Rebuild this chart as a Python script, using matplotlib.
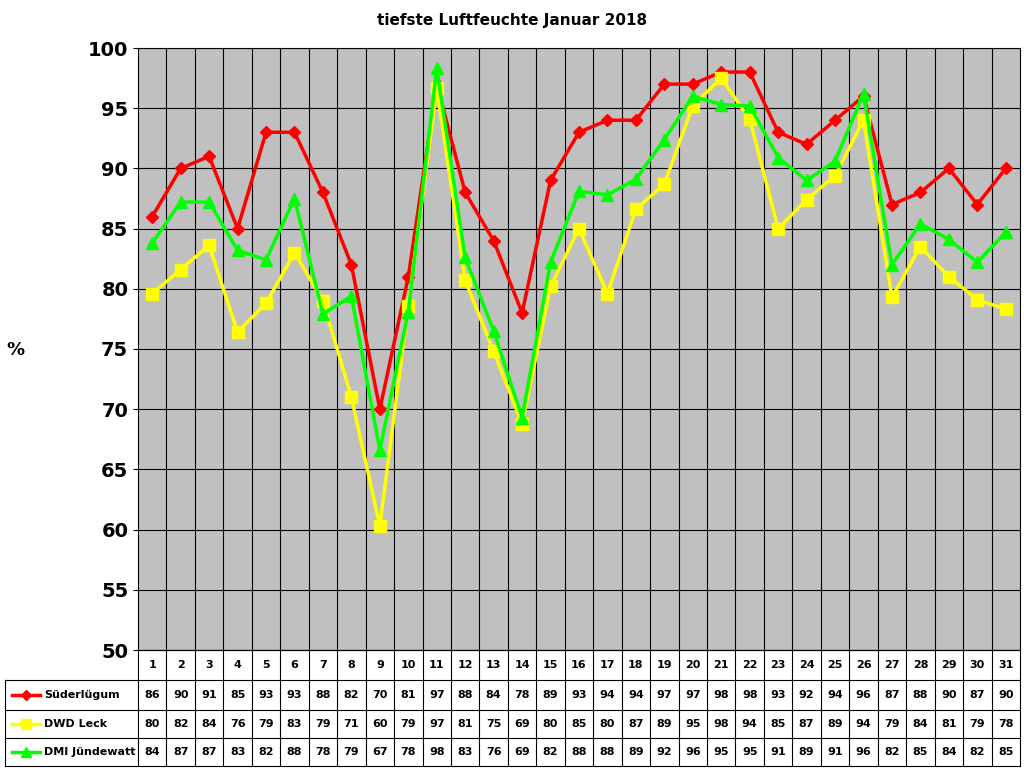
import matplotlib
matplotlib.use("Agg")
import matplotlib.pyplot as plt
from matplotlib.lines import Line2D
import matplotlib.transforms as mt

days = list(range(1, 32))
sued = [86,90,91,85,93,93,88,82,70,81,97,88,84,78,89,93,94,94,97,97,98,98,93,92,94,96,87,88,90,87,90]
dwd = [79.6,81.6,83.6,76.4,78.8,83,79,71,60.3,78.6,96.7,80.7,74.8,68.8,80.2,85,79.6,86.6,88.7,95.2,97.5,94.1,85,87.4,89.4,94,79.3,83.5,81,79.1,78.3]
dmi = [83.8,87.2,87.2,83.2,82.4,87.5,77.9,79.4,66.6,78.1,98.3,82.6,76.5,69.3,82.2,88.1,87.8,89.1,92.4,96,95.3,95.2,90.9,89,90.6,96.2,82,85.4,84.1,82.2,84.7]
names = ["Süderlügum", "DWD Leck", "DMI Jündewatt"]
colors = ["#ff0000", "#ffff00", "#00ff00"]
markers = ["D", "s", "^"]
sizes = [6, 9, 9]

W, H = 1024, 768
fig = plt.figure(figsize=(W/100, H/100), dpi=100)
L, R, T, B = 138, 1020, 48, 650
ax = fig.add_axes([L/W, 1-B/H, (R-L)/W, (B-T)/H])
ax.set_facecolor("#c0c0c0")
ax.set_xlim(0.5, 31.5)
ax.set_ylim(50, 100)
ax.set_yticks(range(50, 101, 5))
ax.set_yticklabels([str(v) for v in range(50, 101, 5)], fontsize=14, fontweight="bold")
ax.set_xticks([d + 0.5 for d in days[:-1]])
ax.set_xticklabels([])
ax.tick_params(axis="x", length=0)
ax.grid(True, color="black", linewidth=0.8)
for s in ax.spines.values():
    s.set_color("black")
series = [sued, dwd, dmi]
for vals, c, m, ms in zip(series, colors, markers, sizes):
    ax.plot(days, vals, color=c, marker=m, markersize=ms, linewidth=2.5, zorder=3)
fig.text(0.5, 1-20/H, "tiefste Luftfeuchte Januar 2018", ha="center", va="center", fontsize=11, fontweight="bold")
fig.text(15/W, 1-350/H, "%", ha="center", va="center", fontsize=13, fontweight="bold")

# table
rows_y = [650, 680, 710, 738, 766]
colw = (R-L)/31
def px(x, y):
    return fig.transFigure.transform((x/W, 1-y/H))
tr = fig.transFigure
for y in rows_y:
    x0 = L if y == 650 else 5
    fig.add_artist(Line2D([x0/W, R/W], [1-y/H, 1-y/H], color="black", lw=0.8, transform=tr))
for i in range(32):
    x = L + i*colw
    fig.add_artist(Line2D([x/W, x/W], [1-650/H, 1-766/H], color="black", lw=0.8, transform=tr))
fig.add_artist(Line2D([5/W, 5/W], [1-680/H, 1-766/H], color="black", lw=0.8, transform=tr))
for i, d in enumerate(days):
    fig.text((L+(i+0.5)*colw)/W, 1-665/H, str(d), ha="center", va="center", fontsize=8, fontweight="bold")
for r, (vals, name, c, m, ms) in enumerate(zip(series, names, colors, markers, sizes)):
    yc = (rows_y[r+1] + rows_y[r+2]) / 2
    fig.add_artist(Line2D([12/W, 40/W], [1-yc/H]*2, color=c, lw=2.5, transform=tr))
    fig.add_artist(Line2D([26/W], [1-yc/H], color=c, marker=m, markersize=ms*0.8, transform=tr))
    fig.text(44/W, 1-yc/H, name, ha="left", va="center", fontsize=8, fontweight="bold")
    for i, v in enumerate(vals):
        fig.text((L+(i+0.5)*colw)/W, 1-yc/H, str(int(round(v))), ha="center", va="center", fontsize=8, fontweight="bold")
fig.savefig("out.png", dpi=100)
